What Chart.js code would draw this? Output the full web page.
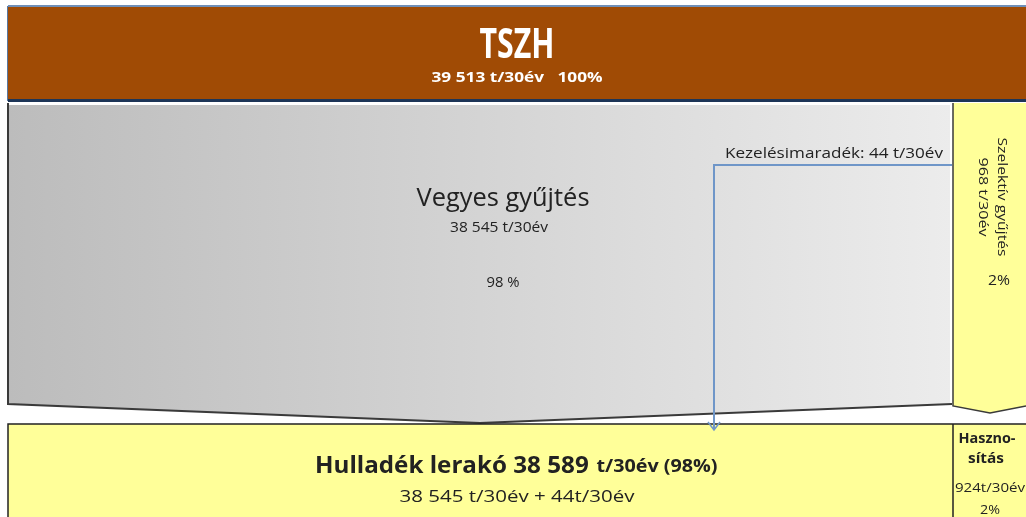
<!DOCTYPE html>
<html>
<head>
<meta charset="utf-8">
<script src="https://cdn.jsdelivr.net/npm/chart.js@4.4.1/dist/chart.umd.min.js"></script>
<style>
  html,body{margin:0;padding:0;background:#fff;}
  #wrap{width:1026px;height:517px;position:relative;}
</style>
</head>
<body>
<div id="wrap"><canvas id="c"></canvas></div>
<script>
// ---- data ----
const nodeNames = ['TSZH', 'Vegyes gyűjtés', 'Szelektív gyűjtés', 'Hulladék lerakó', 'Hasznosítás'];
const nodeTonnes = [39513, 38545, 968, 38589, 924];
const nodePercents = [100, 98, 2, 98, 2];
const residueLabel = 'Kezelésimaradék';
const residueTonnes = [44];
const unitLabel = 't/30év';

// ---- layout (chart units, y downward) ----
const L = {
  top:   {x0: 8, x1: 1026, y0: 6, y1: 101},
  mixed: {x0: 8, x1: 952, y0: 103, y1: 404, tipX: 480, tipY: 423},
  sel:   {x0: 953, x1: 1026, y0: 103, y1: 406, tipX: 990, tipY: 413},
  land:  {x0: 8, x1: 953, y0: 424, y1: 520},
  rec:   {x0: 953, x1: 1026, y0: 424, y1: 520},
  link:  {x0: 952, y: 165, x1: 714, y1: 430}
};

function fmt(n){ return String(n).replace(/\B(?=(\d{3})+(?!\d))/g, ' '); }
const FONT = '"Open Sans", "Noto Sans", sans-serif';

// draw text centred at (cx, cy) stretched to width w (px), optional vertical scale / rotation
function fitText(ctx, text, cx, cy, w, font, opts){
  opts = opts || {};
  ctx.save();
  ctx.font = font;
  ctx.textAlign = 'center';
  ctx.textBaseline = 'middle';
  const mw = ctx.measureText(text).width;
  ctx.translate(cx, cy);
  if (opts.rot) ctx.rotate(opts.rot);
  ctx.scale(w / mw, opts.sy || 1);
  ctx.fillText(text, 0, 0);
  ctx.restore();
}

const diagramPlugin = {
  id: 'diagram',
  beforeDatasetsDraw(chart){
    const ctx = chart.ctx, xs = chart.scales.x, ys = chart.scales.y;
    const X = v => xs.getPixelForValue(v), Y = v => ys.getPixelForValue(v);
    ctx.save();

    // top box
    const t = L.top;
    ctx.fillStyle = '#6f8fb8';
    ctx.fillRect(X(t.x0), Y(t.y0)-1, X(t.x1)-X(t.x0), 2);
    ctx.fillStyle = '#a04b05';
    ctx.fillRect(X(t.x0), Y(t.y0)+1, X(t.x1)-X(t.x0), Y(t.y1)-Y(t.y0)-3);
    ctx.fillStyle = '#1d3557';
    ctx.fillRect(X(t.x0), Y(t.y1)-2, X(t.x1)-X(t.x0), 3);
    ctx.fillStyle = '#5a78a0';
    ctx.fillRect(X(t.x0)-1, Y(t.y0), 1, Y(t.y1)-Y(t.y0));

    // mixed collection (gray arrow)
    const m = L.mixed;
    const g = ctx.createLinearGradient(X(m.x0), 0, X(m.x1), 0);
    g.addColorStop(0, '#bcbcbc');
    g.addColorStop(1, '#ececec');
    ctx.beginPath();
    ctx.moveTo(X(m.x0), Y(m.y0));
    ctx.lineTo(X(m.x1), Y(m.y0));
    ctx.lineTo(X(m.x1), Y(m.y1));
    ctx.lineTo(X(m.tipX), Y(m.tipY));
    ctx.lineTo(X(m.x0), Y(m.y1));
    ctx.closePath();
    ctx.fillStyle = g; ctx.fill();
    ctx.strokeStyle = '#3a3a3a'; ctx.lineWidth = 2;
    ctx.beginPath();
    ctx.moveTo(X(m.x0), Y(m.y0));
    ctx.lineTo(X(m.x0), Y(m.y1));
    ctx.lineTo(X(m.tipX), Y(m.tipY));
    ctx.lineTo(X(m.x1), Y(m.y1));
    ctx.stroke();
    ctx.strokeStyle = '#ffffff'; ctx.lineWidth = 2;
    ctx.beginPath();
    ctx.moveTo(X(m.x0)+1, Y(m.y0)+1); ctx.lineTo(X(m.x1)-1, Y(m.y0)+1); ctx.lineTo(X(m.x1)-1, Y(m.y1)-1);
    ctx.stroke();

    // selective collection strip
    const s = L.sel;
    ctx.beginPath();
    ctx.moveTo(X(s.x0), Y(s.y0));
    ctx.lineTo(X(s.x1), Y(s.y0));
    ctx.lineTo(X(s.x1), Y(s.y1));
    ctx.lineTo(X(s.tipX), Y(s.tipY));
    ctx.lineTo(X(s.x0), Y(s.y1));
    ctx.closePath();
    ctx.fillStyle = '#ffff99'; ctx.fill();
    ctx.strokeStyle = '#3a3a3a'; ctx.lineWidth = 1.5;
    ctx.beginPath();
    ctx.moveTo(X(s.x0), Y(s.y0));
    ctx.lineTo(X(s.x0), Y(s.y1));
    ctx.lineTo(X(s.tipX), Y(s.tipY));
    ctx.lineTo(X(s.x1), Y(s.y1));
    ctx.stroke();

    // landfill & recovery boxes
    const l = L.land, r = L.rec;
    ctx.fillStyle = '#ffff99';
    ctx.fillRect(X(l.x0), Y(l.y0), X(r.x1)-X(l.x0), Y(l.y1)-Y(l.y0));
    ctx.strokeStyle = '#222'; ctx.lineWidth = 1.5;
    ctx.beginPath();
    ctx.moveTo(X(l.x0), Y(l.y1)); ctx.lineTo(X(l.x0), Y(l.y0)); ctx.lineTo(X(r.x1), Y(l.y0));
    ctx.moveTo(X(r.x0), Y(r.y0)); ctx.lineTo(X(r.x0), Y(r.y1));
    ctx.stroke();

    // residue link
    const k = L.link;
    ctx.strokeStyle = '#6f96c8'; ctx.lineWidth = 2;
    ctx.beginPath();
    ctx.moveTo(X(k.x0), Y(k.y)); ctx.lineTo(X(k.x1), Y(k.y)); ctx.lineTo(X(k.x1), Y(k.y1));
    ctx.stroke();
    ctx.lineWidth = 1.5;
    ctx.beginPath();
    ctx.moveTo(X(k.x1)-6, Y(k.y1)-8); ctx.lineTo(X(k.x1), Y(k.y1)); ctx.lineTo(X(k.x1)+6, Y(k.y1)-8);
    ctx.stroke();

    // ---- texts ----
    // TSZH
    ctx.fillStyle = '#ffffff';
    fitText(ctx, nodeNames[0], X(517), Y(46), 75, 'bold 30px ' + FONT, {sy: 1.35});
    fitText(ctx, fmt(nodeTonnes[0]) + ' ' + unitLabel + '   ' + nodePercents[0] + '%', X(517), Y(78), 171, 'bold 14px ' + FONT);

    // mixed
    ctx.fillStyle = '#222';
    fitText(ctx, nodeNames[1], X(503), Y(199), 173, '25px ' + FONT, {sy: 1.05});
    fitText(ctx, fmt(nodeTonnes[1]) + ' ' + unitLabel, X(499), Y(228), 98, '14px ' + FONT);
    fitText(ctx, nodePercents[1] + ' %', X(503), Y(283), 33, '14px ' + FONT);

    // residue label
    fitText(ctx, residueLabel + ': ' + residueTonnes[0] + ' ' + unitLabel, X(834), Y(154), 218, '14px ' + FONT);

    // selective (rotated)
    fitText(ctx, nodeNames[2], X(1001), Y(197), 119, '12px ' + FONT, {rot: Math.PI/2});
    fitText(ctx, fmt(nodeTonnes[2]) + ' ' + unitLabel, X(982), Y(197), 79, '12px ' + FONT, {rot: Math.PI/2});
    fitText(ctx, nodePercents[2] + '%', X(999), Y(281), 22, '15px ' + FONT);

    // landfill
    const p1 = nodeNames[3] + ' ' + fmt(nodeTonnes[3]) + ' ';
    const p2 = unitLabel + ' (' + nodePercents[3] + '%)';
    fitText(ctx, p1, X(455), Y(466), 280, 'bold 23px ' + FONT);
    fitText(ctx, p2, X(657), Y(467), 121, 'bold 18px ' + FONT);
    fitText(ctx, fmt(nodeTonnes[1]) + ' ' + unitLabel + ' + ' + residueTonnes[0] + unitLabel, X(517), Y(497), 235, '17px ' + FONT);

    // recovery
    const rn = nodeNames[4];
    fitText(ctx, rn.slice(0, 6) + '-', X(987), Y(439), 57, 'bold 15px ' + FONT);
    fitText(ctx, rn.slice(6), X(986), Y(459), 36, 'bold 15px ' + FONT);
    fitText(ctx, nodeTonnes[4] + unitLabel, X(990), Y(489), 70, '12px ' + FONT);
    fitText(ctx, nodePercents[4] + '%', X(990), Y(510), 20, '13px ' + FONT);

    ctx.restore();
  }
};

new Chart(document.getElementById('c'), {
  type: 'scatter',
  data: { datasets: [{ data: [], pointRadius: 0 }] },
  options: {
    responsive: true,
    maintainAspectRatio: false,
    animation: false,
    layout: { padding: 0 },
    plugins: { legend: { display: false }, tooltip: { enabled: false } },
    scales: {
      x: { type: 'linear', min: 0, max: 1026, display: false },
      y: { type: 'linear', min: 0, max: 517, reverse: true, display: false }
    }
  },
  plugins: [diagramPlugin]
});
</script>
</body>
</html>
